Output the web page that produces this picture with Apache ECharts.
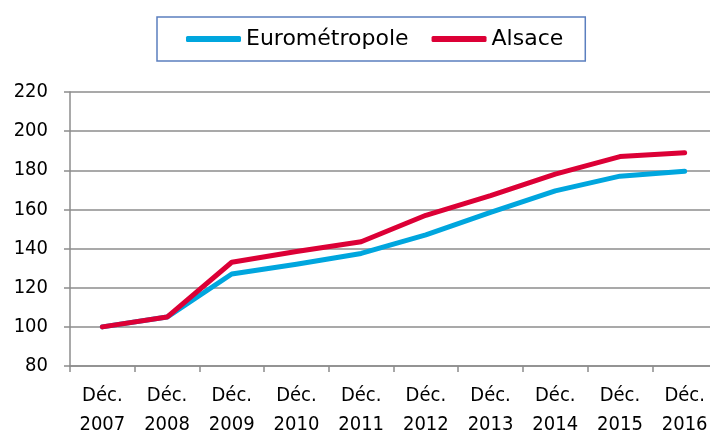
<!DOCTYPE html>
<html>
<head>
<meta charset="utf-8">
<script src="https://cdn.jsdelivr.net/npm/echarts@6/dist/echarts.min.js"></script>
<style>
  html, body { margin: 0; padding: 0; background: #fff; }
  #chart { width: 710px; height: 434px; }
</style>
</head>
<body>
<div id="chart"></div>
<script>
// catégories et valeurs (indice base 100 en déc. 2007)
const years = ['2007', '2008', '2009', '2010', '2011', '2012', '2013', '2014', '2015', '2016'];
const categories = years.map(y => 'Déc.\n' + y);
const eurometropole = [100, 105, 127, 132, 137.5, 147, 158.5, 169.5, 177, 179.5];
const alsace = [100, 105, 133, 138.5, 143.5, 157, 167, 178, 187, 189];
const seriesNames = ['Eurométropole', 'Alsace'];

const axisFont = 'DejaVu Sans Condensed';
const legendFont = 'DejaVu Sans';
const chart = echarts.init(document.getElementById('chart'));

chart.setOption({
  animation: false,
  textStyle: { fontFamily: axisFont },
  legend: {
    data: seriesNames,
    top: 17,
    left: 157,
    icon: 'roundRect',
    itemWidth: 55,
    itemHeight: 6,
    itemGap: 23,
    padding: [11, 22, 11, 29],
    borderColor: '#5b7fbf',
    borderWidth: 1.5,
    textStyle: { fontFamily: legendFont, fontSize: 22, color: '#000' }
  },
  grid: {
    left: 70,
    right: -7,
    top: 92,
    bottom: 68,
    outerBoundsMode: 'none'
  },
  xAxis: {
    type: 'category',
    data: categories,
    boundaryGap: true,
    axisLine: { lineStyle: { color: '#8c8c8c', width: 1.5 } },
    axisTick: { show: true, length: 6, lineStyle: { color: '#8c8c8c', width: 1.5 } },
    axisLabel: {
      interval: 0,
      fontFamily: axisFont,
      fontSize: 20,
      color: '#000',
      lineHeight: 29,
      margin: 15
    }
  },
  yAxis: {
    type: 'value',
    min: 80,
    max: 220,
    interval: 20,
    axisLine: { show: true, lineStyle: { color: '#8c8c8c', width: 1.5 } },
    axisTick: { show: true, length: 6, lineStyle: { color: '#8c8c8c', width: 1.5 } },
    splitLine: { lineStyle: { color: '#8c8c8c', width: 1.5 } },
    axisLabel: {
      fontFamily: axisFont,
      fontSize: 20,
      color: '#000',
      margin: 22
    }
  },
  series: [
    {
      name: seriesNames[0],
      type: 'line',
      data: eurometropole,
      showSymbol: false,
      symbol: 'none',
      color: '#00a6de',
      lineStyle: { color: '#00a6de', width: 5, cap: 'round', join: 'round' }
    },
    {
      name: seriesNames[1],
      type: 'line',
      data: alsace,
      showSymbol: false,
      symbol: 'none',
      color: '#dc0036',
      lineStyle: { color: '#dc0036', width: 5, cap: 'round', join: 'round' }
    }
  ]
});
</script>
</body>
</html>
